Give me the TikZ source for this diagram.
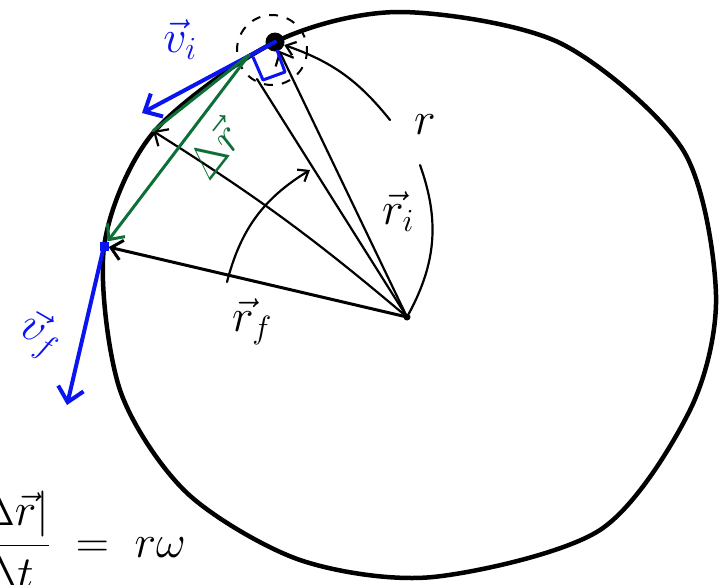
\RequirePackage{fix-cm}
\documentclass[tikz,border=0pt]{standalone}
\usepackage{amsmath,amssymb}
\usepackage{xcolor}
\usetikzlibrary{arrows.meta,positioning}
\definecolor{penblue}{HTML}{0A14F0}
\definecolor{pengreen}{HTML}{0E6E38}
\tikzset{
  rim/.style={line width=4.5pt,line join=round},
  rad/.style={line width=2.2pt,line cap=round},
  vel/.style={penblue,line width=4pt,line cap=round,-{Straight Barb[length=14pt,width=26pt]}},
  dsp/.style={pengreen,line width=3pt,line cap=round},
  tip/.style={-{Straight Barb[length=11pt,width=20pt]}},
  lbl/.style={font=\fontsize{46}{50}\selectfont,inner sep=0pt}
}
\begin{document}
\begin{tikzpicture}[x=1pt,y=-1pt]
\useasboundingbox (0,0) rectangle (722,584);
\draw[rim] plot[smooth cycle] coordinates {(275,42) (400,12) (560,43) (683,150) (716,295) (690,410) (600,530) (433,577) (300,560) (187,493) (120,390) (104,247) (153,133)};
\node[circle,fill,inner sep=0pt,minimum size=19pt] (ball) at (275,42) {};
\node[circle,fill,inner sep=0pt,minimum size=7pt] (ctr) at (407,317) {};
\node[fill=penblue,inner sep=0pt,minimum size=9pt] (fin) at (104,246) {};
\coordinate (mid) at (153,131);
\coordinate (bA) at (257,79);
\coordinate (dst) at (249,55);
\draw[dashed,line width=2pt,dash pattern=on 9pt off 9pt] (272,50) circle (35);
\draw[rad] (ctr.center) -- (bA);
\draw[rad,tip] (ctr.center) -- (ball);
\draw[rad,tip] (ctr.center) to[bend right=4] (mid);
\draw[rad,line width=3pt,tip] (ctr.center) -- (fin);
\draw[rad,-{Straight Barb[length=9pt,width=14pt]}] (227,282) to[bend left=22] (310,170);
\draw[rad,{Straight Barb[length=9pt,width=14pt]}-] (ball) to[bend left=16] (390,120);
\draw[rad] (420,165) to[bend left=24] (ctr);
\draw[vel] (ball.center) -- (142,113);
\draw[vel] (fin.center) -- (67,405);
\draw[penblue,line width=3pt,line join=round] (253,57) -- (263,80) -- (285,72) -- (277,50);
\draw[dsp,-{Straight Barb[length=12pt,width=22pt]}] (dst) -- (fin);
\draw[dsp] (dst) -- (mid);
\node[lbl,penblue] (vi) at (180,40) {$\vec{v}_i$};
\node[lbl,pengreen,rotate=52] (dr) at (214,150) {$\Delta\vec{r}$};
\node[lbl] (rlen) at (425,125) {$r$};
\node[lbl] (ri) at (398,212) {$\vec{r}_i$};
\node[lbl] (rf) at (252,322) {$\vec{r}_f$};
\node[lbl,penblue,rotate=-30] (vf) at (40,335) {$\vec{v}_f$};
\node[lbl,anchor=east] (eq) at (186,540) {$\dfrac{|\Delta\vec{r}|}{\Delta t}\;=\;r\omega$};
\end{tikzpicture}
\end{document}
